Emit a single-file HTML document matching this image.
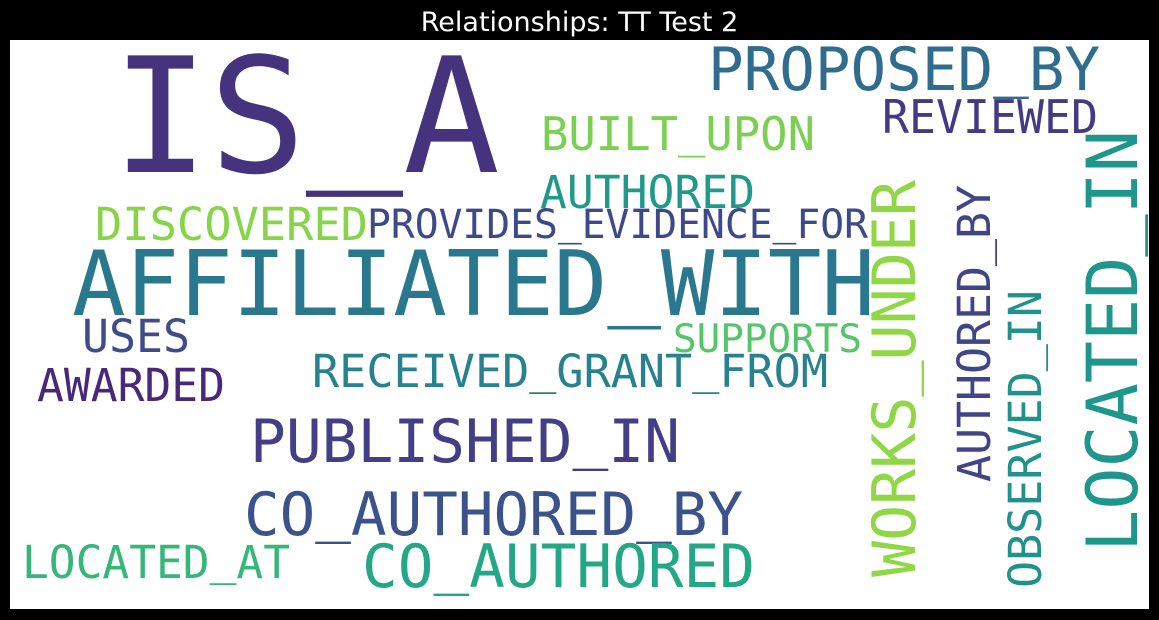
<!DOCTYPE html>
<html><head><meta charset="utf-8"><style>
html,body{margin:0;padding:0;background:#000;width:1159px;height:620px;overflow:hidden}
svg text{font-family:"DejaVu Sans Mono","Liberation Mono",monospace}
</style></head><body>
<svg width="1159" height="620" xmlns="http://www.w3.org/2000/svg">
<rect x="0" y="0" width="1159" height="620" fill="#000"/>
<text x="579.5" y="31" text-anchor="middle" fill="#fff" style="font-family:'DejaVu Sans','Liberation Sans',sans-serif;font-size:27px">Relationships: TT Test 2</text>
<rect x="10" y="40" width="1139" height="569" fill="#fff"/>
<g id="words">
<text x="112" y="172" font-size="160" textLength="388" lengthAdjust="spacingAndGlyphs" fill="#46337e">IS_A</text>
<text x="708" y="90" font-size="60" textLength="392" lengthAdjust="spacingAndGlyphs" fill="#2f6c8e">PROPOSED_BY</text>
<text x="882" y="133" font-size="46" textLength="216" lengthAdjust="spacingAndGlyphs" fill="#443a83">REVIEWED</text>
<text x="541" y="150" font-size="46" textLength="274" lengthAdjust="spacingAndGlyphs" fill="#7ad151">BUILT_UPON</text>
<text x="540" y="208" font-size="45" textLength="215" lengthAdjust="spacingAndGlyphs" fill="#1f9a8a">AUTHORED</text>
<text x="95" y="240" font-size="45" textLength="273" lengthAdjust="spacingAndGlyphs" fill="#86d549">DISCOVERED</text>
<text x="367" y="238" font-size="40" textLength="501" lengthAdjust="spacingAndGlyphs" fill="#3e4989">PROVIDES_EVIDENCE_FOR</text>
<text x="72" y="315" font-size="90" textLength="803" lengthAdjust="spacingAndGlyphs" fill="#2a788e">AFFILIATED_WITH</text>
<text x="82" y="352" font-size="45" textLength="108" lengthAdjust="spacingAndGlyphs" fill="#3e4c8a">USES</text>
<text x="673" y="352" font-size="39" textLength="189" lengthAdjust="spacingAndGlyphs" fill="#54c568">SUPPORTS</text>
<text x="37" y="401" font-size="45" textLength="188" lengthAdjust="spacingAndGlyphs" fill="#482878">AWARDED</text>
<text x="312" y="387" font-size="45" textLength="516" lengthAdjust="spacingAndGlyphs" fill="#26828e">RECEIVED_GRANT_FROM</text>
<text x="250" y="462" font-size="60" textLength="430" lengthAdjust="spacingAndGlyphs" fill="#433e85">PUBLISHED_IN</text>
<text x="244" y="535" font-size="60" textLength="499" lengthAdjust="spacingAndGlyphs" fill="#3b528b">CO_AUTHORED_BY</text>
<text x="362" y="587" font-size="60" textLength="393" lengthAdjust="spacingAndGlyphs" fill="#22a884">CO_AUTHORED</text>
<text x="22" y="578" font-size="45" textLength="268" lengthAdjust="spacingAndGlyphs" fill="#35b779">LOCATED_AT</text>
<text x="915" y="577" font-size="60" textLength="397" lengthAdjust="spacingAndGlyphs" transform="rotate(-90 915 577)" fill="#8fd744">WORKS_UNDER</text>
<text x="990" y="482" font-size="45" textLength="297" lengthAdjust="spacingAndGlyphs" transform="rotate(-90 990 482)" fill="#414487">AUTHORED_BY</text>
<text x="1041" y="588" font-size="45" textLength="298" lengthAdjust="spacingAndGlyphs" transform="rotate(-90 1041 588)" fill="#21918c">OBSERVED_IN</text>
<text x="1137" y="552" font-size="70" textLength="422" lengthAdjust="spacingAndGlyphs" transform="rotate(-90 1137 552)" fill="#1f968b">LOCATED_IN</text>
</g>
</svg>
<script>
var NS = "http://www.w3.org/2000/svg";
var texts = document.querySelectorAll('#words text');
texts.forEach(function (t) {
  var s = t.textContent;
  if (s.indexOf('_') < 0) return;
  var parts = s.split('_');
  t.textContent = '';
  parts.forEach(function (p, i) {
    if (i > 0) {
      var u = document.createElementNS(NS, 'tspan');
      u.setAttribute('dy', '-0.08em');
      u.textContent = '_';
      t.appendChild(u);
    }
    var sp = document.createElementNS(NS, 'tspan');
    if (i > 0) sp.setAttribute('dy', '0.08em');
    sp.textContent = p;
    t.appendChild(sp);
  });
});
</script>
</body></html>
